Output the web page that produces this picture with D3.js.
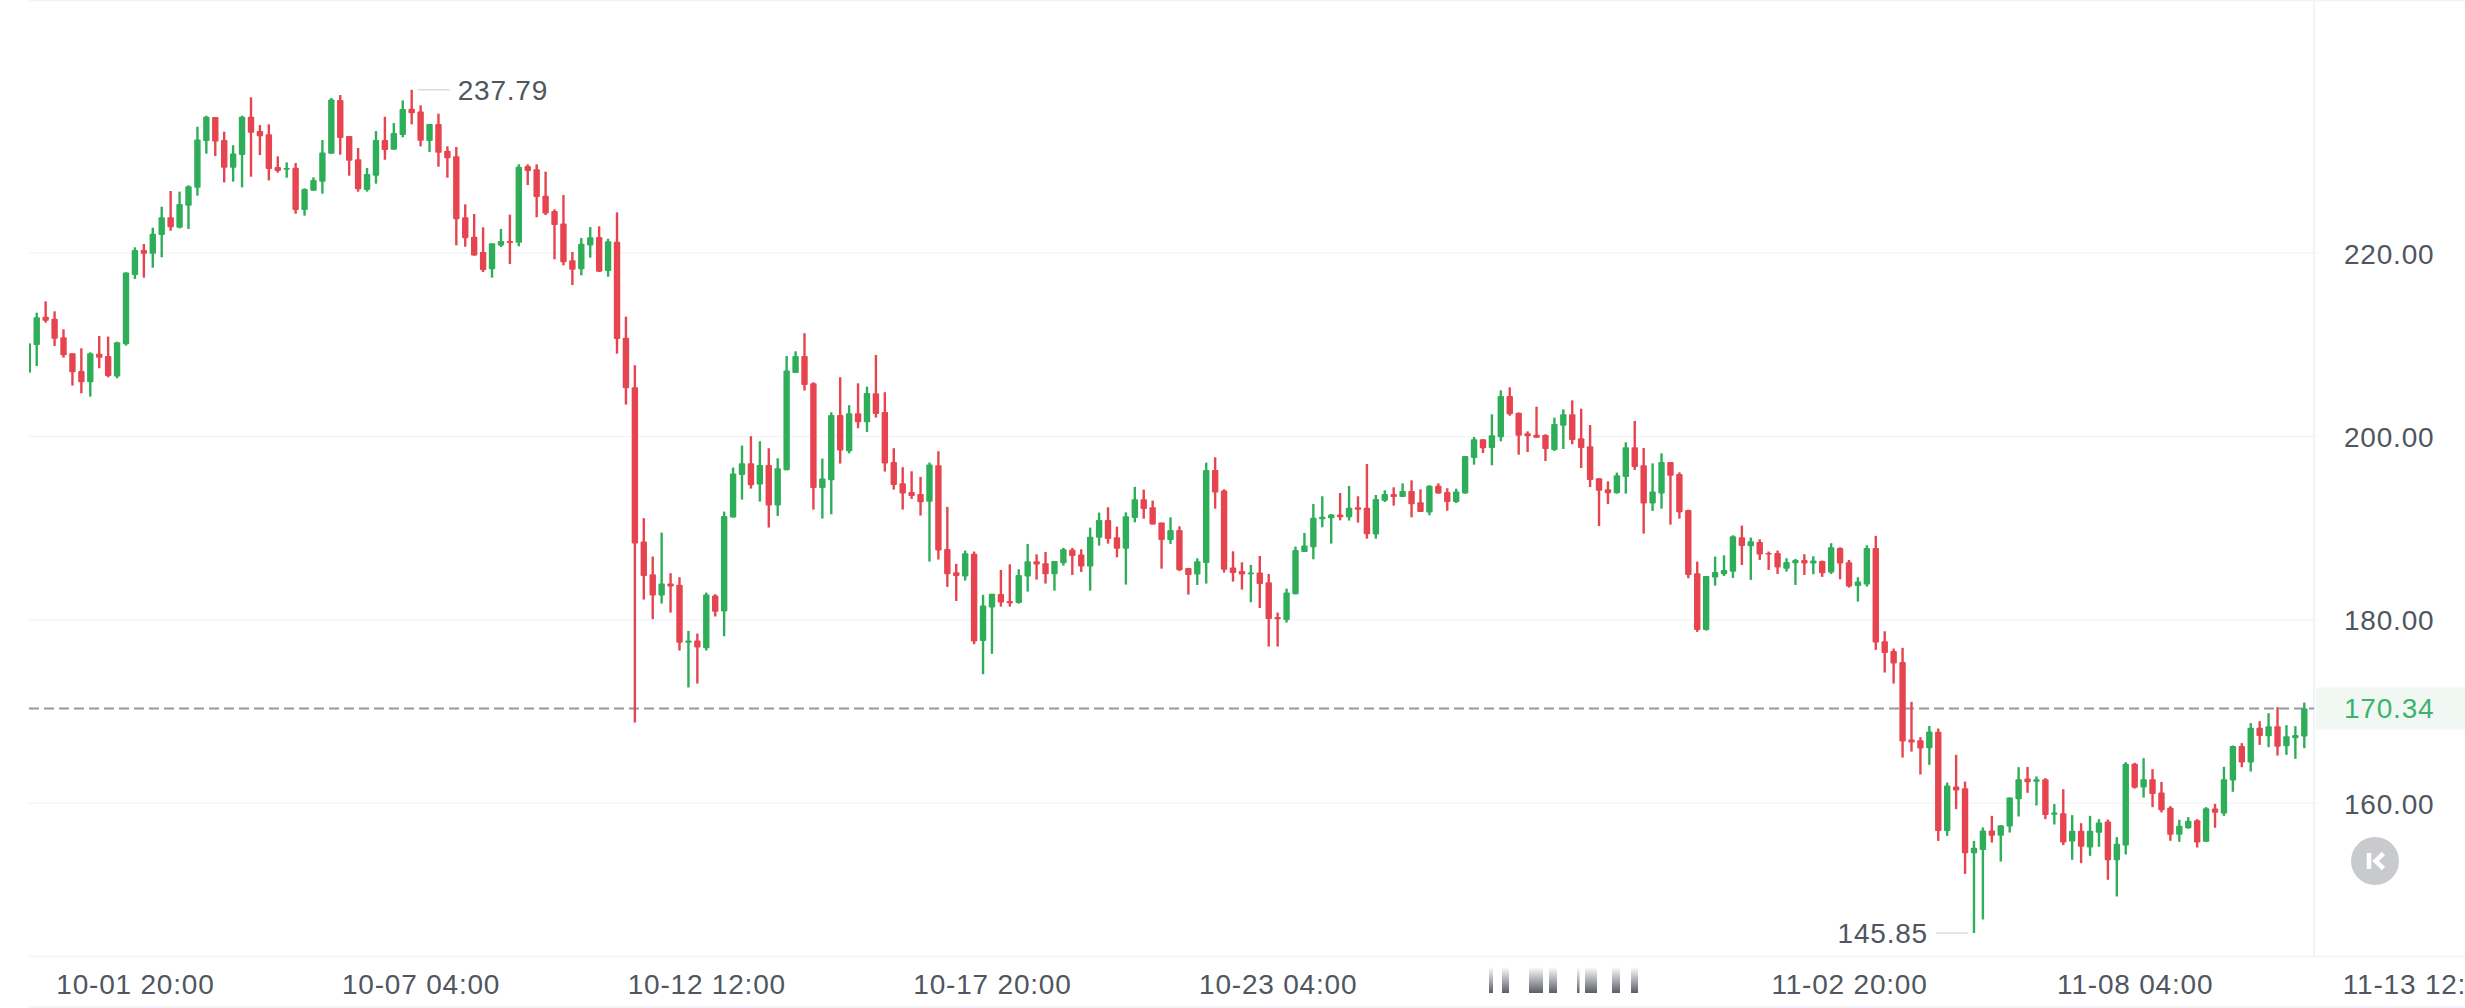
<!DOCTYPE html>
<html>
<head>
<meta charset="utf-8">
<style>
  html, body { margin: 0; padding: 0; background: #fff; overflow: hidden; }
  text { font-family: "Liberation Sans", sans-serif; font-size: 28px; letter-spacing: 0.8px; }
</style>
<script src="https://cdn.jsdelivr.net/npm/d3@7"></script>
</head>
<body>
<svg width="2465" height="1008"></svg>
<script>
// 4h candles, one value per candle
var open = [
  206.95,209.97,213.06,212.84,210.80,209.06,207.13,205.90,209.02,208.77,
  206.52,210.04,217.60,220.33,219.93,221.96,223.89,222.76,225.16,227.12,
  232.21,234.83,232.32,229.30,230.68,234.86,233.30,232.94,229.37,229.08,
  229.30,224.69,226.79,227.78,230.83,236.68,232.75,230.21,226.87,228.43,
  232.32,231.26,232.86,235.73,235.44,232.21,234.06,231.16,230.54,223.89,
  221.78,220.11,218.22,220.83,221.31,221.13,229.48,229.12,226.25,224.58,
  223.23,219.20,218.22,220.83,221.74,218.04,221.23,210.77,205.36,188.53,
  184.97,182.65,183.95,183.81,177.49,177.74,176.91,182.65,180.90,191.15,
  195.80,197.07,194.75,196.89,192.46,196.31,206.92,208.77,205.79,194.38,
  195.22,202.34,198.38,202.52,201.54,204.70,202.67,197.22,194.89,193.95,
  193.73,192.86,196.86,187.73,185.19,184.72,187.19,177.70,181.34,182.82,
  182.06,181.84,184.71,186.38,186.16,184.96,186.16,187.65,187.11,185.80,
  188.96,190.89,189.00,187.76,191.11,193.14,192.27,190.60,188.71,189.80,
  185.66,184.93,186.20,196.34,194.09,185.69,185.33,184.96,185.15,184.09,
  180.31,179.99,182.78,187.40,187.91,190.96,191.07,191.47,191.18,192.27,
  192.23,189.29,192.99,193.72,193.39,194.05,192.81,191.69,194.63,193.94,
  192.85,193.76,197.65,199.68,198.74,199.90,204.41,202.59,200.34,200.19,
  200.15,198.52,201.17,202.41,199.79,198.92,195.43,194.23,193.79,195.57,
  198.81,196.85,192.67,193.76,197.21,195.90,191.98,185.07,178.89,184.60,
  184.96,185.25,189.00,188.02,188.49,187.29,187.29,185.58,186.17,186.53,
  186.13,186.42,185.15,187.84,186.27,183.69,183.84,187.84,177.66,176.61,
  175.41,166.94,166.87,166.00,167.78,156.98,161.82,161.64,154.55,154.91,
  157.02,156.44,157.46,160.44,162.69,162.33,162.62,158.73,158.91,155.83,
  156.99,155.17,156.77,158.01,153.79,155.39,164.29,161.71,162.62,161.17,
  159.50,156.55,157.28,158.15,155.79,159.42,158.88,162.48,166.25,164.44,
  168.22,167.31,168.40,166.22,167.09,167.27
];
var high = [
  210.15,213.49,214.73,213.64,211.68,209.06,209.61,209.17,210.95,210.88,
  210.33,217.89,220.62,220.98,222.76,225.05,226.76,226.69,227.38,233.77,
  234.97,234.83,233.23,231.74,234.97,236.97,233.95,234.03,230.54,229.88,
  229.81,227.05,228.25,232.32,236.90,237.22,232.75,231.45,229.27,233.30,
  234.86,234.17,236.64,237.79,236.10,234.06,235.19,231.63,231.56,225.30,
  224.25,222.80,221.05,222.62,224.18,229.67,229.67,229.67,228.87,224.76,
  226.32,220.11,221.63,222.83,222.91,221.56,224.43,213.06,207.76,191.08,
  186.90,189.51,185.08,184.64,178.79,178.50,182.97,182.79,191.80,196.60,
  199.00,200.02,199.47,198.71,197.62,208.77,209.28,211.25,205.90,197.58,
  202.63,206.45,203.40,205.79,205.43,208.88,204.82,198.71,196.64,196.20,
  195.58,197.15,198.38,192.31,186.10,187.55,187.44,182.72,182.83,185.44,
  186.05,185.51,188.27,187.14,187.40,186.42,187.84,187.84,187.69,190.05,
  191.69,192.27,190.16,191.72,194.49,194.20,193.00,190.60,191.18,190.20,
  185.66,186.71,197.14,197.72,194.23,187.47,186.27,185.98,186.96,185.00,
  180.79,183.40,187.98,189.47,192.63,193.47,191.54,193.83,194.59,193.47,
  196.99,193.61,194.12,194.45,194.88,195.21,194.23,194.67,194.88,194.34,
  194.30,197.86,199.94,199.68,202.41,205.02,205.35,202.59,200.55,203.24,
  200.23,202.04,202.95,203.93,203.02,201.24,195.43,195.10,196.05,199.35,
  201.68,198.74,197.06,198.15,197.21,196.08,192.01,186.34,184.78,186.89,
  187.03,189.22,190.27,188.96,188.78,187.44,187.55,186.71,186.64,187.15,
  186.93,186.46,188.35,187.91,186.53,184.64,188.13,189.15,178.75,176.86,
  176.94,171.05,167.20,168.43,168.14,162.25,165.27,162.36,155.89,157.35,
  158.62,157.60,160.62,163.93,163.96,162.91,162.73,159.90,161.53,158.70,
  157.82,158.62,158.26,158.22,156.30,164.47,164.40,164.91,163.71,162.33,
  159.68,158.19,158.48,158.26,159.57,159.93,163.97,166.29,166.55,168.73,
  168.94,169.82,170.47,168.51,168.40,170.98
];
var low = [
  206.95,207.68,212.40,209.86,208.59,205.54,204.70,204.34,207.43,206.44,
  206.34,209.90,217.16,217.31,218.40,219.53,222.43,222.69,222.62,226.25,
  230.83,230.57,227.70,227.78,227.16,228.32,230.68,227.92,228.76,228.21,
  224.29,224.07,226.79,226.47,230.83,230.72,228.43,226.69,226.69,227.56,
  230.17,231.26,232.61,234.03,231.63,231.01,229.41,228.21,220.83,220.69,
  219.71,217.93,217.31,220.65,218.80,220.73,227.41,223.89,224.14,219.31,
  218.65,216.51,217.56,219.49,217.93,217.42,209.02,203.47,168.80,182.21,
  180.07,181.77,180.79,176.65,172.62,173.05,176.65,180.36,178.21,191.15,
  193.11,194.31,192.89,190.06,191.33,196.31,206.92,205.00,192.02,191.04,
  191.51,197.04,198.16,200.89,200.49,202.05,196.17,194.20,192.02,193.19,
  191.37,186.35,186.57,183.59,182.06,184.28,177.34,174.07,176.29,181.44,
  181.44,181.77,183.08,184.38,183.95,183.18,185.91,184.89,185.22,183.18,
  188.09,188.31,186.82,183.84,190.63,191.03,190.38,185.58,188.27,185.33,
  182.75,183.80,183.95,192.12,185.15,184.17,183.29,181.91,181.29,177.08,
  177.08,179.70,182.78,187.40,186.60,190.09,188.31,190.85,190.82,190.60,
  188.85,188.85,192.85,192.45,193.39,191.18,191.76,191.40,193.76,191.90,
  192.74,193.76,196.92,198.19,196.85,199.46,202.26,198.01,198.30,199.83,
  197.32,198.41,198.63,199.14,196.56,194.48,190.23,192.63,193.76,193.76,
  196.34,189.40,191.87,192.12,190.38,191.03,184.53,178.68,178.82,183.73,
  184.78,184.56,185.98,184.35,186.53,185.44,185.00,185.26,183.80,184.89,
  184.97,184.68,185.00,184.42,183.51,181.99,183.62,176.72,174.25,173.05,
  164.98,165.63,163.13,164.18,155.89,156.44,159.35,152.30,145.85,147.32,
  155.71,153.64,156.80,158.55,161.13,159.75,158.26,157.68,155.43,153.83,
  153.46,154.26,155.24,151.65,149.83,154.41,161.60,160.62,159.57,158.99,
  155.90,155.79,157.21,155.17,155.79,157.32,158.62,161.24,163.93,163.46,
  166.36,166.11,165.20,165.27,164.84,166.00
];
var close = [
  210.15,212.99,212.62,210.66,208.84,206.99,205.90,209.06,208.59,206.59,
  210.26,217.86,220.33,219.93,222.11,223.89,222.80,225.34,227.27,232.39,
  234.86,232.17,229.30,230.86,234.86,233.12,232.72,229.16,228.94,229.27,
  224.69,226.98,227.96,230.97,236.75,232.54,230.07,226.94,228.61,232.32,
  231.23,233.08,235.70,235.23,232.25,234.06,230.94,230.32,223.67,221.60,
  219.74,218.15,221.05,221.31,221.09,229.41,228.94,226.10,224.32,223.05,
  218.98,218.18,221.02,221.71,217.96,221.27,210.62,205.25,188.32,184.79,
  182.65,183.95,183.63,177.49,177.74,176.98,182.76,180.87,191.33,195.95,
  197.07,194.67,196.89,192.46,196.53,207.18,208.77,205.61,194.38,195.40,
  202.34,198.45,202.52,201.54,204.74,202.45,197.04,194.71,193.77,193.51,
  192.82,196.93,187.55,184.97,184.79,187.26,177.63,181.56,182.83,181.88,
  181.80,184.89,186.38,186.02,184.96,186.42,187.69,186.96,185.80,189.07,
  190.89,188.82,187.76,191.29,193.14,192.09,190.38,188.71,189.80,185.40,
  184.89,186.38,196.34,193.87,185.47,185.11,184.93,185.15,183.91,180.10,
  180.06,182.97,187.62,188.09,191.14,191.25,191.47,191.18,192.23,192.01,
  189.33,193.18,193.72,193.39,194.05,192.59,191.76,194.63,193.76,192.85,
  193.98,197.86,199.68,198.70,200.12,204.41,202.41,200.08,200.01,199.86,
  198.63,201.35,202.41,199.61,198.74,195.25,194.08,193.79,195.76,198.81,
  196.67,192.67,193.98,197.21,195.72,191.72,184.89,178.89,184.78,185.22,
  185.44,189.11,188.05,188.56,187.11,187.18,185.69,186.31,186.53,186.13,
  186.46,185.08,187.91,186.13,183.62,184.17,187.84,177.52,176.39,175.23,
  166.72,166.61,165.96,167.81,156.98,161.93,161.38,154.55,155.13,157.02,
  156.44,157.60,160.62,162.62,162.29,162.62,158.70,158.99,155.72,156.99,
  155.24,156.99,157.90,153.79,155.57,164.29,161.68,162.62,160.99,159.24,
  156.55,157.53,158.08,155.72,159.46,158.95,162.62,166.25,164.44,168.22,
  167.34,168.40,166.15,167.31,167.45,170.34
];

var yTicks = [160, 180, 200, 220];
var xTickLabels = ["10-01 20:00", "10-07 04:00", "10-12 12:00", "10-17 20:00", "10-23 04:00",
                   "11-02 20:00", "11-08 04:00", "11-13 12:00"];
var startTime = "09-29 20:00";
var lastPrice = 170.34;

var green = "#2fae5a",
    red   = "#e6444f",
    grid  = "#f3f6f8",
    frame = "#f0f3f7",
    label = "#50565f";

var svg = d3.select("svg"),
    width  = +svg.attr("width"),
    height = +svg.attr("height"),
    plot   = {left: 29, right: 2314, bottom: 956.5};

var parseTime  = d3.utcParse("%Y-%m-%d %H:%M"),
    formatTime = d3.utcFormat("%m-%d %H:%M");

var times = open.map(function(d, i) { return d3.utcHour.offset(parseTime("2025-" + startTime), 4 * i); });

var x = d3.scaleTime().domain([times[0], times[times.length - 1]]).range([27.8, 2304.3]),
    y = d3.scaleLinear().domain([160, 220]).range([803.2, 253]);

var candles = open.map(function(d, i) {
  return {time: times[i], open: d, high: high[i], low: low[i], close: close[i]};
});

svg.append("defs").append("clipPath")
   .attr("id", "clip")
   .append("rect")
   .attr("x", plot.left)
   .attr("y", 0)
   .attr("width", plot.right - plot.left)
   .attr("height", plot.bottom);

var fade = svg.select("defs").append("linearGradient")
   .attr("id", "fade")
   .attr("x1", 0).attr("x2", 0).attr("y1", 0).attr("y2", 1);
fade.append("stop").attr("offset", "0%").attr("stop-color", "#fff");
fade.append("stop").attr("offset", "100%").attr("stop-color", "#5a5d66");

// frame
svg.append("line").attr("x1", plot.right).attr("x2", plot.right).attr("y1", 0).attr("y2", plot.bottom)
   .attr("stroke", frame).attr("stroke-width", 2);
svg.append("line").attr("x1", plot.left).attr("x2", width).attr("y1", plot.bottom).attr("y2", plot.bottom)
   .attr("stroke", frame).attr("stroke-width", 2);
svg.append("line").attr("x1", plot.left).attr("x2", width).attr("y1", height - 1).attr("y2", height - 1)
   .attr("stroke", frame).attr("stroke-width", 1.5);
svg.append("line").attr("x1", plot.left).attr("x2", width).attr("y1", 0.5).attr("y2", 0.5)
   .attr("stroke", frame).attr("stroke-width", 1.5);

// grid
svg.append("g").selectAll("line")
   .data(yTicks)
   .enter().append("line")
   .attr("x1", plot.left)
   .attr("x2", plot.right + 4)
   .attr("y1", function(d) { return y(d); })
   .attr("y2", function(d) { return y(d); })
   .attr("stroke", grid)
   .attr("stroke-width", 1.5);

// last price line
svg.append("line")
   .attr("x1", plot.left)
   .attr("x2", plot.right)
   .attr("y1", y(lastPrice))
   .attr("y2", y(lastPrice))
   .attr("stroke", "#96989c")
   .attr("stroke-width", 2)
   .attr("stroke-dasharray", "10,5");

// candles
var candle = svg.append("g")
   .attr("clip-path", "url(#clip)")
   .selectAll("g")
   .data(candles)
   .enter().append("g")
   .attr("fill", function(d) { return d.close >= d.open ? green : red; });

candle.append("rect")
   .attr("x", function(d) { return x(d.time) - 1.2; })
   .attr("width", 2.4)
   .attr("y", function(d) { return y(d.high); })
   .attr("height", function(d) { return y(d.low) - y(d.high); });

candle.append("rect")
   .attr("x", function(d) { return x(d.time) - 3.2; })
   .attr("width", 6.4)
   .attr("rx", 1)
   .attr("y", function(d) { return y(Math.max(d.open, d.close)); })
   .attr("height", function(d) { return Math.max(1.5, Math.abs(y(d.open) - y(d.close))); });

// y axis
var yAxis = d3.axisRight(y).tickValues(yTicks).tickFormat(d3.format(".2f")).tickSize(0).tickPadding(30);
svg.append("g")
   .attr("transform", "translate(" + plot.right + ",0)")
   .call(yAxis)
   .call(styleAxis)
   .selectAll("text")
   .attr("dy", ".36em");

// x axis
var xTickTimes = xTickLabels.map(function(d) { return parseTime("2025-" + d); });
var xAxis = d3.axisBottom(x).tickValues(xTickTimes).tickFormat(formatTime).tickSize(0).tickPadding(17.5);
svg.append("g")
   .attr("transform", "translate(0," + plot.bottom + ")")
   .call(xAxis)
   .call(styleAxis);

function styleAxis(g) {
  g.select(".domain").remove();
  g.selectAll("text")
   .attr("fill", label)
   .style("font-size", "28px")
   .style("font-family", "\"Liberation Sans\", sans-serif");
}

// smeared tick label in the middle of the time axis
var smear = [[1489, 4], [1502, 7], [1529, 14], [1549, 8], [1577, 2.5], [1585, 12], [1612, 8], [1631, 7]];
svg.append("g").selectAll("rect")
   .data(smear)
   .enter().append("rect")
   .attr("x", function(d) { return d[0]; })
   .attr("width", function(d) { return d[1]; })
   .attr("y", 967)
   .attr("height", 26)
   .attr("fill", "url(#fade)");

// last price tag
svg.append("rect")
   .attr("x", plot.right + 2)
   .attr("y", y(lastPrice) - 21)
   .attr("width", width - plot.right - 2)
   .attr("height", 42)
   .attr("fill", "#f1f8f4");
svg.append("text")
   .attr("x", plot.right + 30)
   .attr("y", y(lastPrice))
   .attr("dy", ".36em")
   .attr("fill", "#3cb36b")
   .text(d3.format(".2f")(lastPrice));

// high and low callouts
var highest = candles[d3.greatestIndex(high)],
    lowest  = candles[d3.leastIndex(low)];

svg.append("line")
   .attr("x1", x(highest.time) + 6).attr("x2", x(highest.time) + 38)
   .attr("y1", y(highest.high)).attr("y2", y(highest.high))
   .attr("stroke", "#dcdee0").attr("stroke-width", 1.5);
svg.append("text")
   .attr("x", x(highest.time) + 46)
   .attr("y", y(highest.high))
   .attr("dy", ".36em")
   .attr("fill", label)
   .text(d3.format(".2f")(highest.high));

svg.append("line")
   .attr("x1", x(lowest.time) - 38).attr("x2", x(lowest.time) - 6)
   .attr("y1", y(lowest.low)).attr("y2", y(lowest.low))
   .attr("stroke", "#dcdee0").attr("stroke-width", 1.5);
svg.append("text")
   .attr("x", x(lowest.time) - 46)
   .attr("y", y(lowest.low))
   .attr("dy", ".36em")
   .attr("text-anchor", "end")
   .attr("fill", label)
   .text(d3.format(".2f")(lowest.low));

// K button
svg.append("circle")
   .attr("cx", 2375)
   .attr("cy", 861)
   .attr("r", 24)
   .attr("fill", "#c8cacd");
svg.append("path")
   .attr("d", "M2369 853V869M2383.5 853.5L2375.5 861L2383.5 868.5")
   .attr("fill", "none")
   .attr("stroke", "#fff")
   .attr("stroke-width", 4.5);
</script>
</body>
</html>
